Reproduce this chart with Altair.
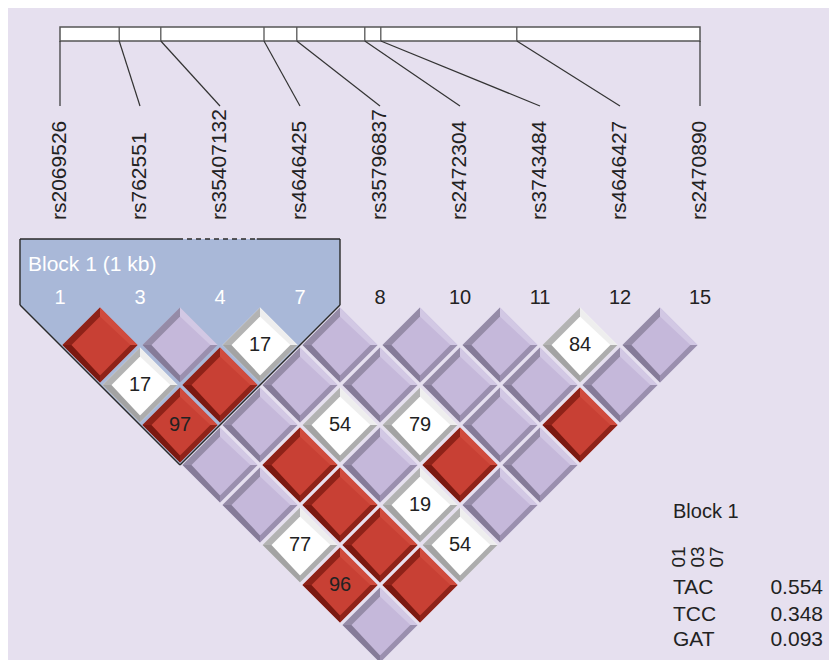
import altair as alt
import pandas as pd

# ---------------- data ----------------
snp_names = ["rs2069526", "rs762551", "rs35407132", "rs4646425", "rs35796837",
             "rs2472304", "rs3743484", "rs4646427", "rs2470890"]
snp_ids = ["1", "3", "4", "7", "8", "10", "11", "12", "15"]
# relative physical positions on the gene map (in marker-spacing units, 0..8)
map_pos = [0.0, 0.74, 1.26, 2.55, 2.96, 3.81, 4.01, 5.71, 8.0]

# LD pairs: marker i, marker j, D' (x100), colour class (R = strong LD, L = low LOD, W = D'<1 low LOD)
ld_i = [0, 1, 2, 3, 4, 5, 6, 7,
        0, 1, 2, 3, 4, 5, 6,
        0, 1, 2, 3, 4, 5,
        0, 1, 2, 3, 4,
        0, 1, 2, 3,
        0, 1, 2,
        0, 1,
        0]
ld_j = [1, 2, 3, 4, 5, 6, 7, 8,
        2, 3, 4, 5, 6, 7, 8,
        3, 4, 5, 6, 7, 8,
        4, 5, 6, 7, 8,
        5, 6, 7, 8,
        6, 7, 8,
        7, 8,
        8]
ld_dprime = [100, 100, 17, 100, 100, 100, 84, 100,
             17, 100, 100, 100, 100, 100, 100,
             97, 100, 54, 79, 100, 100,
             100, 100, 100, 100, 100,
             100, 100, 19, 100,
             77, 100, 54,
             96, 100,
             100]
ld_class = ["R", "L", "W", "L", "L", "L", "W", "L",
            "W", "R", "L", "L", "L", "L", "L",
            "R", "L", "W", "W", "L", "R",
            "L", "R", "L", "R", "L",
            "L", "R", "W", "L",
            "W", "R", "W",
            "R", "R",
            "L"]

block_label = "Block 1 (1 kb)"
block_markers = ["01", "03", "07"]
hap_alleles = ["TAC", "TCC", "GAT"]
hap_freqs = ["0.554", "0.348", "0.093"]

# ---------------- styles ----------------
FONT = "Liberation Sans"
BG = "#e6e0ef"
PAL = {
    "R": dict(fill="#c84034", tl="#8e2218", bl="#7b1911", br="#8f2319", tr="#d04b3d"),
    "L": dict(fill="#c5b8da", tl="#958ba7", bl="#857b98", br="#9a8fae", tr="#d2c8e4"),
    "W": dict(fill="#ffffff", tl="#b3b3b3", bl="#a3a3a3", br="#adadad", tr="#eeeeee"),
}
P_FULL = "M0,-1L1,0L0,1L-1,0Z"
P_TL = "M-1,0L0,-1L0,-0.76L-0.76,0Z"
P_TR = "M0,-1L1,0L0.81,0L0,-0.76Z"
P_BR = "M1,0L0,1L0,0.81L0.81,0Z"
P_BL = "M0,1L-1,0L-0.76,0L0,0.81Z"
DSIZE = 5625

W, H = 821, 652
xs = alt.Scale(domain=[-0.65, (W - 52) / 80.0], nice=False, zero=False)
ys = alt.Scale(domain=[-8.425, (H - 337) / 40.0], nice=False, zero=False, reverse=True)


def X(f):
    return alt.X(f, type="quantitative", scale=xs, axis=None)


def Y(f):
    return alt.Y(f, type="quantitative", scale=ys, axis=None)


# ---------------- tables ----------------
ddf = pd.DataFrame({"i": ld_i, "j": ld_j, "d": ld_dprime, "cls": ld_class})
ddf["x"] = (ddf["i"] + ddf["j"]) / 2.0
ddf["y"] = ddf["j"] - ddf["i"] - 1
for k in ["fill", "tl", "bl", "br", "tr"]:
    ddf[k] = ddf["cls"].map(lambda c: PAL[c][k])
ddf["t"] = ddf["d"].map(lambda v: "" if v >= 100 else str(v))

n = len(snp_names)
sdf = pd.DataFrame({"name": snp_names, "id": snp_ids, "idx": list(range(n)), "mp": map_pos})
sdf["ly"] = -3.125
sdf["ny"] = -1.175
sdf["top"] = -7.6
sdf["bot"] = -5.975
sdf["nc"] = ["#ffffff" if k < 4 else "#222222" for k in range(n)]

bar = pd.DataFrame({"x": [map_pos[0]], "x2": [map_pos[-1]], "y": [-7.95], "y2": [-7.6]})
divs = pd.DataFrame({"x": map_pos[1:-1], "y": -7.95, "y2": -7.6})

# block region (markers 0..3)
area = pd.DataFrame({"x": [-0.5, 1.5, 3.5], "y": [-2.65] * 3, "y2": [-1, 3, -1]})
outline = pd.DataFrame({
    "x": [-0.5, 2.46, -0.5, 3.5, -0.5, 3.5],
    "y": [-2.65, -2.65, -2.65, -2.65, -1, -1],
    "x2": [1.475, 3.5, -0.5, 3.5, 1.5, 1.5],
    "y2": [-2.65, -2.65, -1, -1, 3, 3],
})
dashed = pd.DataFrame({"x": [1.475], "y": [-2.65], "x2": [2.46], "y2": [-2.65]})
blab = pd.DataFrame({"x": [-0.4], "y": [-2.0], "t": [block_label]})

hap_title = pd.DataFrame({"x": [7.6625], "y": [4.175], "t": ["Block 1"]})
hm = pd.DataFrame({"x": [7.74, 7.975, 8.21], "y": [5.3] * 3, "t": block_markers})
hrows = pd.DataFrame({"x": [7.6625] * 3, "x2": [9.5375] * 3, "y": [6.075, 6.75, 7.375],
                      "a": hap_alleles, "f": hap_freqs})

# ---------------- layers ----------------
layers = []
layers.append(alt.Chart(bar).mark_rect(fill="#ffffff", stroke="#555555", strokeWidth=1.5)
              .encode(x=X("x"), x2="x2", y=Y("y"), y2="y2"))
layers.append(alt.Chart(divs).mark_rule(color="#555555", strokeWidth=1.3)
              .encode(x=X("x"), y=Y("y"), y2="y2"))
layers.append(alt.Chart(sdf).mark_rule(color="#333333", strokeWidth=1.2)
              .encode(x=X("mp"), y=Y("top"), x2="idx", y2="bot"))
layers.append(alt.Chart(sdf).mark_text(font=FONT, fontSize=21, angle=270, align="left",
                                       baseline="middle", color="#222222")
              .encode(x=X("idx"), y=Y("ly"), text="name:N"))
layers.append(alt.Chart(area).mark_area(color="#a9b8d8", opacity=1)
              .encode(x=X("x"), y=Y("y"), y2="y2"))

for col, path in [("fill", P_FULL), ("tl", P_TL), ("tr", P_TR), ("br", P_BR), ("bl", P_BL)]:
    layers.append(alt.Chart(ddf).mark_point(shape=path, filled=True, size=DSIZE, opacity=1,
                                            strokeWidth=0)
                  .encode(x=X("x"), y=Y("y"), color=alt.Color(f"{col}:N", scale=None)))

layers.append(alt.Chart(ddf).mark_text(font=FONT, fontSize=20, color="#222222",
                                       baseline="middle")
              .encode(x=X("x"), y=Y("y"), text="t:N"))

layers.append(alt.Chart(outline).mark_rule(color="#2a2a2a", strokeWidth=1.4)
              .encode(x=X("x"), y=Y("y"), x2="x2", y2="y2"))
layers.append(alt.Chart(dashed).mark_rule(color="#2a2a2a", strokeWidth=1.4, strokeDash=[5, 4])
              .encode(x=X("x"), y=Y("y"), x2="x2", y2="y2"))

layers.append(alt.Chart(sdf).mark_text(font=FONT, fontSize=20, baseline="middle")
              .encode(x=X("idx"), y=Y("ny"), text="id:N", color=alt.Color("nc:N", scale=None)))
layers.append(alt.Chart(blab).mark_text(font=FONT, fontSize=21, align="left",
                                        baseline="middle", color="#ffffff")
              .encode(x=X("x"), y=Y("y"), text="t:N"))

layers.append(alt.Chart(hap_title).mark_text(font=FONT, fontSize=20, align="left",
                                             baseline="middle", color="#222222")
              .encode(x=X("x"), y=Y("y"), text="t:N"))
layers.append(alt.Chart(hm).mark_text(font=FONT, fontSize=19, angle=270, align="center",
                                      baseline="middle", color="#222222")
              .encode(x=X("x"), y=Y("y"), text="t:N"))
layers.append(alt.Chart(hrows).mark_text(font=FONT, fontSize=21, align="left",
                                         baseline="middle", color="#222222")
              .encode(x=X("x"), y=Y("y"), text="a:N"))
layers.append(alt.Chart(hrows).mark_text(font=FONT, fontSize=21, align="right",
                                         baseline="middle", color="#222222")
              .encode(x=X("x2"), y=Y("y"), text="f:N"))

chart = alt.layer(*layers).properties(
    width=W, height=H, padding=0, autosize=alt.AutoSizeParams(type="none"),
    background=BG,
).configure_view(stroke=None)

chart.save("out.html", embed_options={"renderer": "svg", "actions": False})
